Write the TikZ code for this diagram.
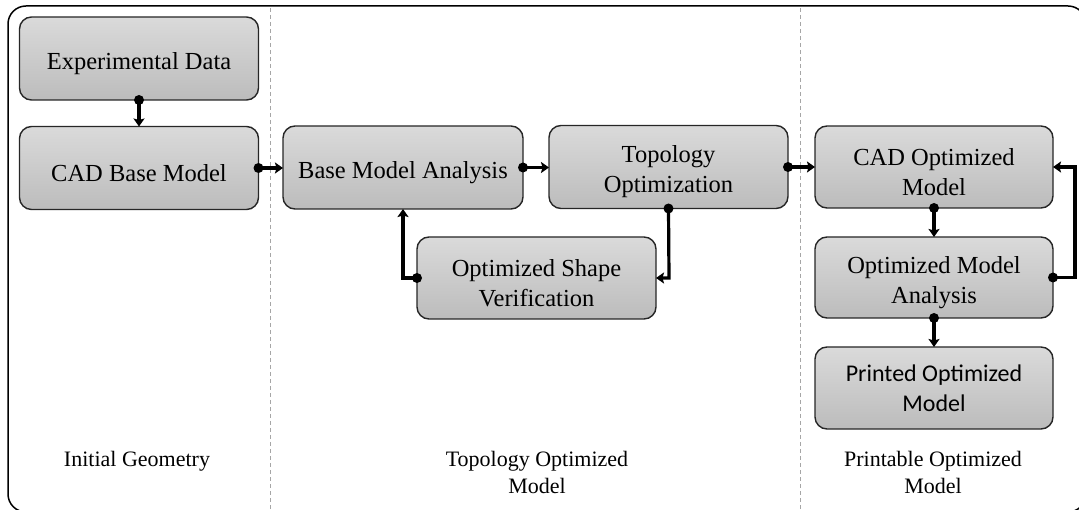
\documentclass[tikz,border=0pt]{standalone}
\usepackage{fontspec}
\setmainfont{Liberation Serif}
\newfontfamily\calfont{Carlito}
\usetikzlibrary{arrows.meta}
\begin{document}
\begin{tikzpicture}[x=1pt,y=-1pt,
  box/.style={draw=black!85, line width=1.4pt, rounded corners=12pt,
    top color={rgb,255:red,218;green,218;blue,218},
    bottom color={rgb,255:red,188;green,188;blue,188},
    minimum width=239pt, minimum height=83pt, inner sep=2pt, outer sep=0pt},
  boxtext/.style={align=center, font=\fontsize{24.5}{30}\selectfont, yshift=-5pt},
  conn/.style={line width=3.2pt, -{Stealth[length=8pt,width=11pt,inset=1.5pt]}},
  dot/.style={fill=black},
  sep/.style={gray!70, line width=0.9pt, dash pattern=on 4pt off 3pt},
  lbl/.style={align=center, font=\fontsize{22}{27}\selectfont, anchor=base}
]
\useasboundingbox (0,0) rectangle (1079,510);
\begin{scope}
\clip (0,0) rectangle (1079,510);
\draw[line width=1.5pt, rounded corners=18pt] (8,6) rectangle (1086,512);
\end{scope}
\draw[sep] (270,8) -- (270,510);
\draw[sep] (800,8) -- (800,510);

\node[box, label={[boxtext]center:Experimental Data}] (exp) at (139,58.5) {};
\node[box, label={[boxtext]center:CAD Base Model}] (cad) at (139,168) {};
\node[box, minimum width=240pt, label={[boxtext]center:Base Model Analysis}] (bma) at (403,167.5) {};
\node[box, label={[boxtext]center:{Topology\\Optimization}}] (topo) at (668.5,167) {};
\node[box, minimum height=82pt, label={[boxtext]center:{Optimized Shape\\Verification}}] (osv) at (536.5,278) {};
\node[box, minimum width=238pt, minimum height=82pt, label={[boxtext]center:{CAD Optimized\\Model}}] (cado) at (934,167) {};
\node[box, minimum width=238pt, minimum height=81pt, label={[boxtext]center:{Optimized Model\\Analysis}}] (oma) at (934,277.5) {};
\node[box, minimum width=238pt, minimum height=82pt, align=center, font=\calfont\fontsize{24}{30}\selectfont] (pom) at (934,388) {Printed Optimized\\Model};

\coordinate (c1) at (403,278);
\coordinate (c2) at (669,278);
\coordinate (c3) at (1075,277.5);
\coordinate (c4) at (1075,167);

\draw[conn] (exp.south) -- (cad.north);
\draw[conn] (cad.east) -- (bma.west |- cad.east);
\draw[conn] (bma.east) -- (topo.west |- bma.east);
\draw[conn] (topo.south) -- (c2) -- (osv.east);
\draw[conn] (osv.west) -- (c1) -- (bma.south);
\draw[conn] (topo.east) -- (cado.west |- topo.east);
\draw[conn] (cado.south) -- (oma.north);
\draw[conn] (oma.east) -- (c3) -- (c4) -- (cado.east);
\draw[conn] (oma.south) -- (pom.north);

\fill[dot] (exp.south) circle (5pt);
\fill[dot] (cad.east) circle (5pt);
\fill[dot] (bma.east) circle (5pt);
\fill[dot] (topo.south) circle (5pt);
\fill[dot] (osv.west) circle (5pt);
\fill[dot] (topo.east) circle (5pt);
\fill[dot] (cado.south) circle (5pt);
\fill[dot] (oma.east) circle (5pt);
\fill[dot] (oma.south) circle (5pt);

\node[lbl] (l1) at (137,466) {Initial Geometry};
\node[lbl] (l2) at (537,493) {Topology Optimized\\Model};
\node[lbl] (l3) at (933,493) {Printable Optimized\\Model};
\end{tikzpicture}
\end{document}
